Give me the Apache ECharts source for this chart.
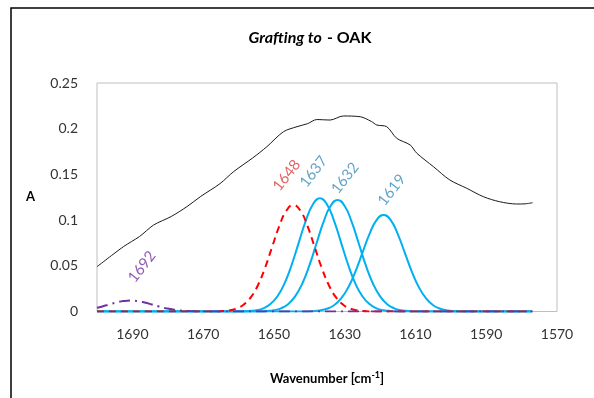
<!DOCTYPE html>
<html>
<head>
<meta charset="utf-8">
<script src="https://cdn.jsdelivr.net/npm/echarts@6/dist/echarts.min.js"></script>
<style>
  html, body { margin: 0; padding: 0; background: #fff; }
  #chart { width: 594px; height: 398px; }
</style>
</head>
<body>
<div id="chart"></div>
<script>
// Measured FTIR spectrum, amide I region: [wavenumber, absorbance]
const spectrum = [
  [1700, 0.049], [1692.5, 0.071], [1688, 0.082], [1684, 0.0946], [1679, 0.104],
  [1674.6, 0.1147], [1670.8, 0.1256], [1665.2, 0.140], [1661.4, 0.153], [1656, 0.168],
  [1652, 0.1803], [1647.3, 0.1967], [1643.5, 0.2022], [1640.5, 0.2055], [1637.9, 0.2100],
  [1634.1, 0.2095], [1630.4, 0.2139], [1625.6, 0.2131], [1622.5, 0.2080], [1620.9, 0.2040],
  [1618.1, 0.2022], [1615.3, 0.1895], [1611.5, 0.1822], [1609.6, 0.1731], [1604.9, 0.1584],
  [1600.3, 0.1439], [1595.5, 0.1348], [1590.8, 0.1256], [1586.2, 0.1201], [1581.4, 0.1176],
  [1579, 0.1178], [1576.9, 0.1190]
];

// Fitted component bands
const band1692 = [
  [1700, 0.0040], [1698.5, 0.0055], [1696.5, 0.0077], [1694.5, 0.0099], [1692.5, 0.0114],
  [1690.5, 0.0120], [1688.5, 0.0114], [1686.5, 0.0099], [1684.5, 0.0077], [1682.5, 0.0055],
  [1680.5, 0.0035], [1678.5, 0.0021], [1676.5, 0.0011], [1674.5, 0.0005], [1672.5, 0.0002],
  [1670.5, 0], [1577, 0]
];
const band1648 = [
  [1700, 0], [1666.5, 0], [1664.5, 0.0005], [1662.5, 0.0013], [1660.5, 0.0033], [1658.5, 0.0077],
  [1656.5, 0.0157], [1654.5, 0.0290], [1652.5, 0.0479], [1650.5, 0.0707], [1648.5, 0.0933],
  [1646.5, 0.1102], [1644.5, 0.1165], [1642.5, 0.1102], [1640.5, 0.0933], [1638.5, 0.0707],
  [1636.5, 0.0479], [1634.5, 0.0290], [1632.5, 0.0157], [1630.5, 0.0077], [1628.5, 0.0033],
  [1626.5, 0.0013], [1624.5, 0.0005], [1622.5, 0], [1577, 0]
];
const band1637 = [
  [1700, 0], [1659, 0], [1657, 0.0005], [1655, 0.0014], [1653, 0.0035], [1651, 0.0081],
  [1649, 0.0167], [1647, 0.0308], [1645, 0.0509], [1643, 0.0751], [1641, 0.0992],
  [1639, 0.1171], [1637, 0.1238], [1635, 0.1171], [1633, 0.0992], [1631, 0.0751],
  [1629, 0.0509], [1627, 0.0308], [1625, 0.0167], [1623, 0.0081], [1621, 0.0035],
  [1619, 0.0014], [1617, 0.0005], [1615, 0], [1577, 0]
];
const band1632 = [
  [1700, 0], [1654, 0], [1652, 0.0005], [1650, 0.0014], [1648, 0.0035], [1646, 0.0080],
  [1644, 0.0165], [1642, 0.0304], [1640, 0.0501], [1638, 0.0741], [1636, 0.0977],
  [1634, 0.1154], [1632, 0.1220], [1630, 0.1154], [1628, 0.0977], [1626, 0.0741],
  [1624, 0.0501], [1622, 0.0304], [1620, 0.0165], [1618, 0.0080], [1616, 0.0035],
  [1614, 0.0014], [1612, 0.0005], [1610, 0], [1577, 0]
];
const band1619 = [
  [1700, 0], [1641, 0], [1639, 0.0004], [1637, 0.0012], [1635, 0.0030], [1633, 0.0069],
  [1631, 0.0143], [1629, 0.0263], [1627, 0.0434], [1625, 0.0641], [1623, 0.0846],
  [1621, 0.0999], [1619, 0.1056], [1617, 0.0999], [1615, 0.0846], [1613, 0.0641],
  [1611, 0.0434], [1609, 0.0263], [1607, 0.0143], [1605, 0.0069], [1603, 0.0030],
  [1601, 0.0012], [1599, 0.0004], [1597, 0], [1577, 0]
];

// Band annotations: [name, wavenumber, absorbance]
const bandLabels = [
  ['1692', 1687.3, 0.049],
  ['1648', 1646.4, 0.149],
  ['1637', 1638.8, 0.153],
  ['1632', 1629.9, 0.146],
  ['1619', 1616.7, 0.133]
];
const labelColors = {
  '1692': '#7030a0', '1648': '#d8403c', '1637': '#3b8cbc', '1632': '#3b8cbc', '1619': '#3b8cbc'
};

const xTicks = [1570, 1590, 1610, 1630, 1650, 1670, 1690];
const yTicks = [0, 0.05, 0.1, 0.15, 0.2, 0.25];

const FONT = 'Lato, "Open Sans", sans-serif';
const BLUE = '#00b0f0';

const chart = echarts.init(document.getElementById('chart'), null, { renderer: 'canvas' });

function bandSeries(name, data, color, type, z) {
  return {
    name: name, type: 'line', data: data, showSymbol: false, smooth: 0.5, z: z,
    lineStyle: { color: color, width: 2, type: type },
    emphasis: { disabled: true }
  };
}

chart.setOption({
  animation: false,
  backgroundColor: '#fff',
  title: {
    text: '{i|Grafting to} {b|- OAK}',
    left: 305, top: 24, textAlign: 'center',
    textStyle: {
      rich: {
        i: { fontFamily: FONT, fontSize: 16, fontWeight: 'bold', fontStyle: 'italic', color: '#000' },
        b: { fontFamily: FONT, fontSize: 16, fontWeight: 'bold', color: '#000' }
      }
    }
  },
  grid: {
    left: 97, right: 37, top: 83, bottom: 86.5,
    show: true, borderColor: '#bfbfbf', borderWidth: 1, backgroundColor: 'transparent'
  },
  xAxis: {
    type: 'value', inverse: true, min: 1570, max: 1700, interval: 10,
    name: '{t|Wavenumber [cm}{s|-1}{t|]}',
    nameLocation: 'middle', nameGap: 59,
    nameTextStyle: {
      rich: {
        t: { fontFamily: FONT, fontSize: 13, fontWeight: 'bold', color: '#000' },
        s: { fontFamily: FONT, fontSize: 9, fontWeight: 'bold', color: '#000', verticalAlign: 'top', padding: [0, 0, 8, 0] }
      }
    },
    axisLine: { show: false }, axisTick: { show: false }, splitLine: { show: false },
    axisLabel: {
      fontFamily: FONT, fontSize: 14, color: '#333', margin: 16,
      formatter: v => (xTicks.indexOf(v) >= 0 ? String(v) : '')
    }
  },
  yAxis: {
    type: 'value', min: 0, max: 0.25, interval: 0.05,
    name: 'A', nameLocation: 'middle', nameGap: 62, nameRotate: 0,
    nameTextStyle: { fontFamily: FONT, fontSize: 13, fontWeight: 'bold', color: '#000' },
    axisLine: { show: false }, axisTick: { show: false }, splitLine: { show: false },
    axisLabel: {
      fontFamily: FONT, fontSize: 14, color: '#333', margin: 19,
      formatter: v => (yTicks.indexOf(Math.round(v * 100) / 100) >= 0 ? String(Math.round(v * 100) / 100) : '')
    }
  },
  series: [
    {
      name: 'spectrum', type: 'line', data: spectrum, showSymbol: false, smooth: 0.3, z: 2,
      lineStyle: { color: '#1a1a1a', width: 1 }
    },
    bandSeries('1637', band1637, BLUE, 'solid', 3),
    bandSeries('1632', band1632, BLUE, 'solid', 3),
    bandSeries('1619', band1619, BLUE, 'solid', 3),
    bandSeries('1648', band1648, '#ff0000', [7, 5], 4),
    bandSeries('1692', band1692, '#7030a0', [11, 5, 2, 5], 5),
    {
      name: 'labels', type: 'scatter', symbolSize: 0, z: 6, silent: true,
      data: bandLabels.map(d => ({
        name: d[0], value: [d[1], d[2]],
        label: { color: labelColors[d[0]] }
      })),
      label: {
        show: true, position: 'inside', rotate: 52,
        fontFamily: FONT, fontSize: 15,
        formatter: p => p.name
      }
    }
  ],
  graphic: [
    {
      type: 'rect', silent: true, z: 100,
      shape: { x: 11, y: 8, width: 620, height: 420 },
      style: { fill: null, stroke: '#000', lineWidth: 1.5 }
    }
  ]
});
</script>
</body>
</html>
